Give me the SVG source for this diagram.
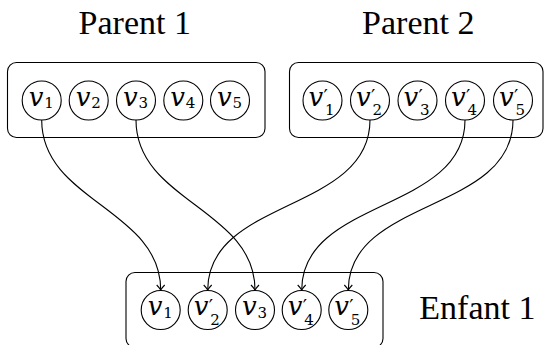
<svg xmlns="http://www.w3.org/2000/svg" width="544" height="345" viewBox="0 0 544 345">
<style>
.box{fill:none;stroke:#000;stroke-width:1.1}
.c{fill:#fff;stroke:#000;stroke-width:1.1}
.lbl{font-size:34px;fill:#000}
.v{font-family:'DejaVu Serif';font-style:italic;font-size:26px;fill:#000}
.s{font-style:normal;font-size:15px}
.p{font-style:normal;font-size:19px}
.e{fill:none;stroke:#000;stroke-width:1.1;marker-end:url(#arr)}
</style>
<defs>
<marker id="arr" viewBox="-6 -5 7 10" refX="0" refY="0" markerWidth="7" markerHeight="10" orient="auto" markerUnits="userSpaceOnUse">
<path d="M-5,-4 C-3,-2 -1,-0.6 0,0 C-1,0.6 -3,2 -5,4" fill="none" stroke="#000" stroke-width="1.1"/>
</marker>
</defs>

<text class="lbl" x="134.8" y="34" text-anchor="middle" style="font-family:'Liberation Serif'">Parent 1</text>
<text class="lbl" x="418.3" y="34" text-anchor="middle" style="font-family:'Liberation Serif'">Parent 2</text>
<text class="lbl" x="419.3" y="319.3" style="font-family:'Liberation Serif'">Enfant 1</text>

<g id="parent1">
<rect class="box" x="7.5" y="62.5" width="257.5" height="75" rx="9"/>
</g>
<g id="parent2">
<rect class="box" x="289.5" y="62.5" width="253.5" height="75" rx="9"/>
</g>
<g id="enfant1">
<rect class="box" x="126" y="272.5" width="257" height="75" rx="9"/>
</g>

<g id="connectors">
<path class="e" d="M41.7,120 C41.7,201.4 160.7,209.1 160.7,290"/>
<path class="e" d="M136,120 C136,201.4 255,209.1 255,290"/>
<path class="e" d="M370,120 C370,212.2 207.7,198.3 207.7,290"/>
<path class="e" d="M465,120 C465,212.4 301.7,198.1 301.7,290"/>
<path class="e" d="M513,120 C513,212.8 348.3,197.7 348.3,290"/>
</g>

<g id="p1-v1"><circle class="c" cx="41.7" cy="100.5" r="19.5"/><text class="v"><tspan x="28.7" y="105.5">v</tspan><tspan class="s" x="44.2" y="108">1</tspan></text></g>
<g id="p1-v2"><circle class="c" cx="88.7" cy="100.5" r="19.5"/><text class="v"><tspan x="75.7" y="105.5">v</tspan><tspan class="s" x="91.2" y="108">2</tspan></text></g>
<g id="p1-v3"><circle class="c" cx="136" cy="100.5" r="19.5"/><text class="v"><tspan x="123" y="105.5">v</tspan><tspan class="s" x="138.5" y="108">3</tspan></text></g>
<g id="p1-v4"><circle class="c" cx="183.3" cy="100.5" r="19.5"/><text class="v"><tspan x="170.3" y="105.5">v</tspan><tspan class="s" x="185.8" y="108">4</tspan></text></g>
<g id="p1-v5"><circle class="c" cx="230" cy="100.5" r="19.5"/><text class="v"><tspan x="217" y="105.5">v</tspan><tspan class="s" x="232.5" y="108">5</tspan></text></g>

<g id="p2-v1"><circle class="c" cx="322.5" cy="100.5" r="19.5"/><text class="v"><tspan x="308.5" y="105.5">v</tspan><tspan class="p" x="323.5" y="103">′</tspan><tspan class="s" x="325" y="115">1</tspan></text></g>
<g id="p2-v2"><circle class="c" cx="370" cy="100.5" r="19.5"/><text class="v"><tspan x="356" y="105.5">v</tspan><tspan class="p" x="371" y="103">′</tspan><tspan class="s" x="372.5" y="115">2</tspan></text></g>
<g id="p2-v3"><circle class="c" cx="417.5" cy="100.5" r="19.5"/><text class="v"><tspan x="403.5" y="105.5">v</tspan><tspan class="p" x="418.5" y="103">′</tspan><tspan class="s" x="420" y="115">3</tspan></text></g>
<g id="p2-v4"><circle class="c" cx="465" cy="100.5" r="19.5"/><text class="v"><tspan x="451" y="105.5">v</tspan><tspan class="p" x="466" y="103">′</tspan><tspan class="s" x="467.5" y="115">4</tspan></text></g>
<g id="p2-v5"><circle class="c" cx="513" cy="100.5" r="19.5"/><text class="v"><tspan x="499" y="105.5">v</tspan><tspan class="p" x="514" y="103">′</tspan><tspan class="s" x="515.5" y="115">5</tspan></text></g>

<g id="e-v1"><circle class="c" cx="160.7" cy="310" r="19.5"/><text class="v"><tspan x="147.7" y="315">v</tspan><tspan class="s" x="163.2" y="317.5">1</tspan></text></g>
<g id="e-v2"><circle class="c" cx="207.7" cy="310" r="19.5"/><text class="v"><tspan x="193.7" y="315">v</tspan><tspan class="p" x="208.7" y="312.5">′</tspan><tspan class="s" x="210.2" y="324.5">2</tspan></text></g>
<g id="e-v3"><circle class="c" cx="255" cy="310" r="19.5"/><text class="v"><tspan x="242" y="315">v</tspan><tspan class="s" x="257.5" y="317.5">3</tspan></text></g>
<g id="e-v4"><circle class="c" cx="301.7" cy="310" r="19.5"/><text class="v"><tspan x="287.7" y="315">v</tspan><tspan class="p" x="302.7" y="312.5">′</tspan><tspan class="s" x="304.2" y="324.5">4</tspan></text></g>
<g id="e-v5"><circle class="c" cx="348.3" cy="310" r="19.5"/><text class="v"><tspan x="334.3" y="315">v</tspan><tspan class="p" x="349.3" y="312.5">′</tspan><tspan class="s" x="350.8" y="324.5">5</tspan></text></g>
</svg>
